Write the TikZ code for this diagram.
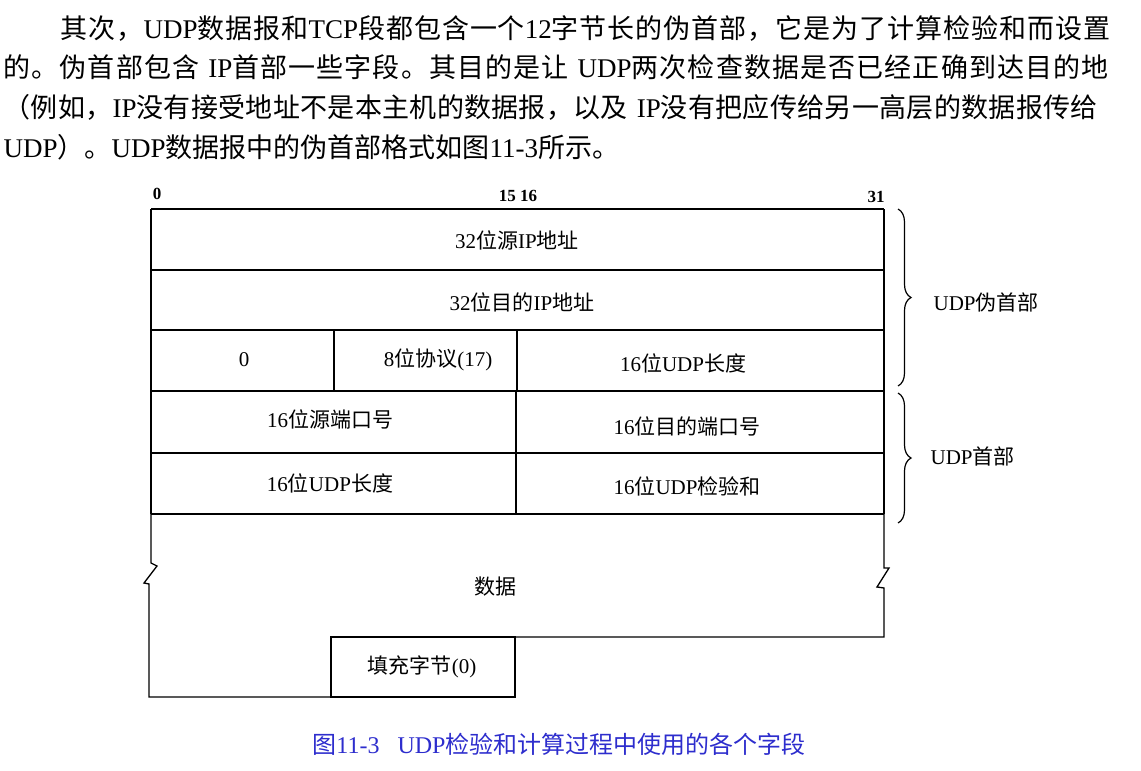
\documentclass[tikz,border=0pt]{standalone}
\usepackage{fontspec}
\setmainfont{Noto Sans CJK SC}
\newfontfamily\latfont{Liberation Serif}
\newcommand{\lat}[1]{{\latfont #1}}
\usepackage{xcolor}
\definecolor{capblue}{RGB}{45,45,205}
\usetikzlibrary{decorations.pathreplacing}
% stretchable glue between CJK characters, for the justified lines
\newXeTeXintercharclass\cjkcls
\count255="3000 \loop \XeTeXcharclass\count255=\cjkcls \advance\count255 by 1 \ifnum\count255<"3040 \repeat
\count255="4E00 \loop \XeTeXcharclass\count255=\cjkcls \advance\count255 by 1 \ifnum\count255<"A000 \repeat
\count255="FF00 \loop \XeTeXcharclass\count255=\cjkcls \advance\count255 by 1 \ifnum\count255<"FFF0 \repeat
\XeTeXinterchartoks\cjkcls\cjkcls={\hskip 0pt plus 3pt\relax}
\XeTeXinterchartoks\cjkcls 0={\hskip 0pt plus 3pt\relax}
\XeTeXinterchartoks 0 \cjkcls={\hskip 0pt plus 3pt\relax}

\begin{document}
\XeTeXinterchartokenstate=1
\begin{tikzpicture}[x=1pt, y=-1pt, line width=1.3pt,
  para/.style={anchor=base west, inner sep=0pt, font=\fontsize{27}{32}\selectfont},
  field/.style={inner sep=0pt, font=\fontsize{21}{24}\selectfont},
  bitno/.style={inner sep=0pt, font=\fontsize{17}{20}\selectfont\latfont\bfseries},
  brace/.style={decorate, decoration={brace, amplitude=13pt}, line width=1.2pt}]
\useasboundingbox (0,0) rectangle (1141,771);

%text above
  \node[para] (line1) at (60,38) {\hbox to 1050pt{其次，\lat{UDP}数据报和\lat{TCP}段都包含一个\lat{12}字节长的伪首部，它是为了计算检验和而设置}};
  \node[para] (line2) at (3,77) {\hbox to 1105pt{的。伪首部包含\hspace{9pt}\lat{IP}首部一些字段。其目的是让\hspace{9pt}\lat{UDP}两次检查数据是否已经正确到达目的地}};
  \node[para] (line3) at (3,117) {\hbox to 1094pt{（例如，\lat{IP}没有接受地址不是本主机的数据报，以及\hspace{9pt}\lat{IP}没有把应传给另一高层的数据报传给}};
  \node[para] (line4) at (3,157) {\lat{UDP}）。\lat{UDP}数据报中的伪首部格式如图\lat{11-3}所示。};

%grid
  \coordinate (TL) at (151,209);
  \coordinate (TR) at (884,209);
  \coordinate (ML) at (151,514);
  \coordinate (MR) at (884,514);
  \foreach \y in {209,270,330,391,453,514}{
    \draw (151,\y) -- (884,\y);
  }
  \draw (TL) -- (ML);
  \draw (TR) -- (MR);
  \draw (334,330) -- (334,391);
  \draw (517,330) -- (517,391);
  \draw (516,391) -- (516,514);

%data and padding
  \coordinate (PL) at (331,697);
  \coordinate (PR) at (515,637);
  \draw (ML) -- (151,563) -- (157,566) -- (144,583) -- (149,584) -- (149,697) -- (PL);
  \draw (PL) rectangle (PR);
  \draw (PR) -- (884,637) -- (884,588) -- (877,587) -- (889,568) -- (884,568) -- (MR);

%bit numbers
  \node[bitno] (b0) at (157,194) {0};
  \node[bitno] (b15) at (518,196) {15 16};
  \node[bitno] (b31) at (876,197) {31};

%fields
  \node[field] (srcip) at (517,240) {\lat{32}位源\lat{IP}地址};
  \node[field] (dstip) at (522,302) {\lat{32}位目的\lat{IP}地址};
  \node[field] (zero) at (244,360) {\lat{0}};
  \node[field] (proto) at (438,360) {\lat{8}位协议\lat{(17)}};
  \node[field] (len1) at (683,363) {\lat{16}位\lat{UDP}长度};
  \node[field] (sport) at (330,419) {\lat{16}位源端口号};
  \node[field] (dport) at (687,426) {\lat{16}位目的端口号};
  \node[field] (len2) at (330,483) {\lat{16}位\lat{UDP}长度};
  \node[field] (csum) at (687,486) {\lat{16}位\lat{UDP}检验和};
  \node[field] (data) at (495,587) {数据};
  \node[field] (pad) at (422,667) {填充字节\lat{(0)}};

%braces
  \draw[brace] (898,209) -- (898,386);
  \draw[brace] (898,393) -- (898,523);
  \node[field, anchor=west] (pseudo) at (933,302) {\lat{UDP}伪首部};
  \node[field, anchor=west] (hdr) at (930,456) {\lat{UDP}首部};

%caption
  \node[field, text=capblue, font=\fontsize{24}{28}\selectfont] (cap) at (559,744)
    {图\lat{11-3}\hspace{18pt}\lat{UDP}检验和计算过程中使用的各个字段};
\end{tikzpicture}
\end{document}
